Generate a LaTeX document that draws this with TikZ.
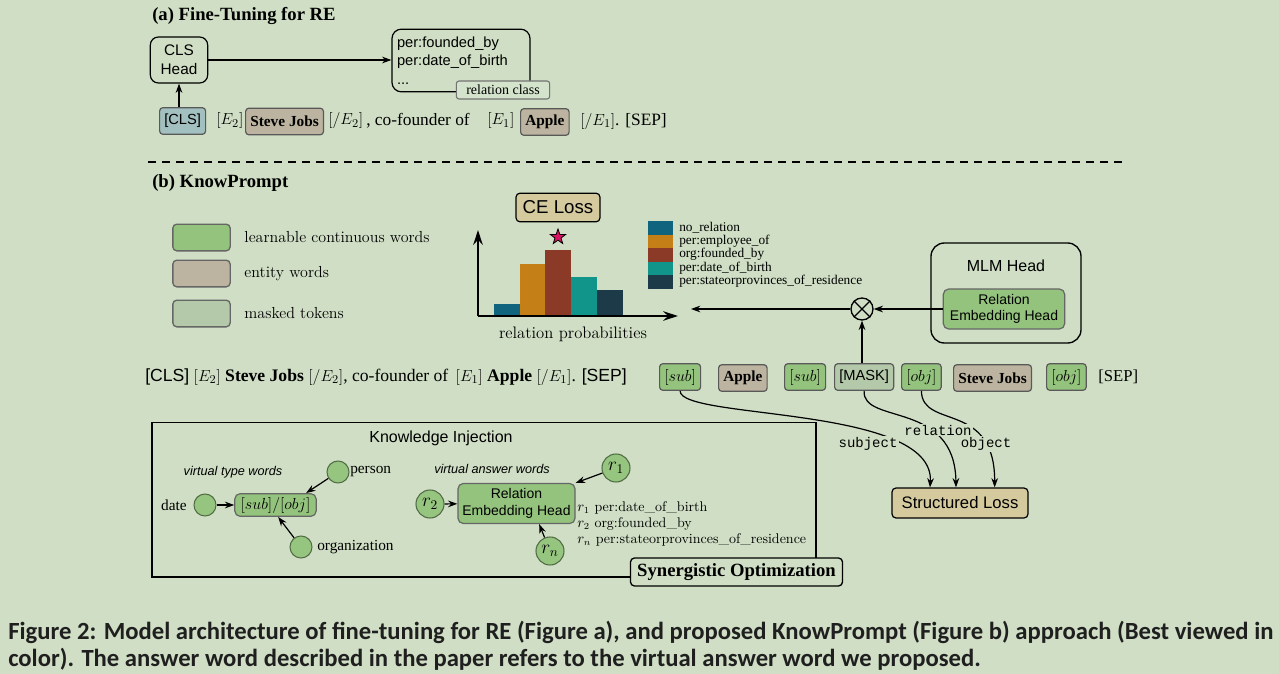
\documentclass[tikz,border=0pt]{standalone}
\usepackage{fontspec}
\usepackage{amsmath}
\setsansfont{Liberation Sans}
\setmonofont{Liberation Mono}
\newfontfamily\tnr{Liberation Serif}
\newfontfamily\capfont{Carlito}
\usetikzlibrary{positioning}
\usetikzlibrary{arrows.meta}
\usetikzlibrary{shapes.geometric}

\definecolor{bgc}{RGB}{207,222,196}
\definecolor{learnc}{RGB}{148,195,125}
\definecolor{entityc}{RGB}{188,180,160}
\definecolor{maskc}{RGB}{180,200,170}
\definecolor{clsc}{RGB}{163,192,192}
\definecolor{lossc}{RGB}{213,202,158}
\definecolor{tagc}{RGB}{212,227,204}
\definecolor{ballc}{RGB}{150,197,127}
\definecolor{barA}{RGB}{16,100,125}
\definecolor{barB}{RGB}{196,127,23}
\definecolor{barC}{RGB}{138,58,38}
\definecolor{barD}{RGB}{17,148,138}
\definecolor{barE}{RGB}{28,58,72}
\definecolor{starc}{RGB}{214,20,100}

\begin{document}
\begin{tikzpicture}[
        x=0.75pt, y=-0.75pt,
        font=\fontsize{11}{13}\selectfont,
        tokbox/.style={draw=black!65, line width=0.9pt, rounded corners=2.5pt,
                       minimum height=20pt, inner xsep=3.5pt, inner ysep=0pt,
                       font=\tnr\fontsize{11.5}{13}\selectfont},
        learnbox/.style={tokbox, fill=learnc, font=\tnr\fontsize{12}{13}\selectfont},
        entbox/.style={tokbox, fill=entityc, font=\tnr\bfseries\fontsize{11.5}{13}\selectfont},
        maskbox/.style={tokbox, fill=maskc, font=\sffamily\fontsize{11}{13}\selectfont},
        plain/.style={inner sep=0pt, font=\tnr\fontsize{13}{15}\selectfont},
        headbox/.style={draw, line width=0.9pt, rounded corners=6pt, align=center,
                        font=\sffamily\fontsize{11.5}{14}\selectfont},
        lossbox/.style={draw, line width=0.9pt, rounded corners=3pt, fill=lossc,
                        font=\sffamily\fontsize{12.5}{14}\selectfont},
        rehbox/.style={draw=black!60, line width=0.9pt, rounded corners=4pt, fill=learnc,
                       align=center, font=\sffamily\fontsize{10.5}{12.5}\selectfont},
        legbox/.style={draw=black!60, line width=1pt, rounded corners=3pt,
                       minimum width=43pt, minimum height=20pt},
        legtext/.style={anchor=west, inner sep=0pt, font=\fontsize{12}{14}\selectfont},
        ball/.style={circle, draw=black!45!ballc, line width=0.8pt, fill=ballc,
                     minimum size=16.5pt, inner sep=0pt},
        rball/.style={ball, minimum size=21pt, font=\fontsize{14}{16}\selectfont},
        vtext/.style={font=\sffamily\itshape\fontsize{9.5}{11}\selectfont},
        mono/.style={font=\ttfamily\fontsize{10.5}{12}\selectfont, fill=bgc, inner sep=1pt},
        title/.style={anchor=west, inner sep=0pt, font=\tnr\bfseries\fontsize{14}{16}\selectfont},
        arrow/.style={-{Stealth[length=7pt,width=5pt]}, line width=0.9pt},
        axis/.style={-{Stealth[length=11pt,width=7pt]}, line width=2pt}
    ]
        % background and page size
        \fill[bgc] (0,0) rectangle (1279,674);
        \useasboundingbox (0,0) rectangle (1279,674);

        % ---------- (a) Fine-Tuning for RE ----------
        \node[title] (titleA) at (152,16) {(a) Fine-Tuning for RE};
        \node[headbox, minimum width=43pt, minimum height=34.5pt] (clshead) at (179,60) {CLS\\Head};
        \node[headbox, rounded corners=7pt, minimum width=103.5pt, minimum height=47pt,
              text width=96pt, align=left, font=\sffamily\fontsize{11}{14}\selectfont]
              (classes) at (461,60.5) {per:founded\_by\\per:date\_of\_birth\\...};
        \node[draw=black!55, line width=0.8pt, rounded corners=2pt, fill=tagc,
              minimum width=70pt, minimum height=13.5pt, inner sep=1pt,
              font=\tnr\fontsize{10.5}{12}\selectfont] (tag) at (503,90) {relation class};

        \node[tokbox, fill=clsc, font=\sffamily\fontsize{11}{13}\selectfont, anchor=west] (clsA) at (159,121) {[CLS]};
        \node[plain, anchor=west] (e2A) at (216,121) {$[E_2]$};
        \node[entbox, anchor=west] (sjA) at (245,121.5) {Steve Jobs};
        \node[plain, anchor=west] (e2cA) at (328,121) {$[/E_2]$};
        \node[plain, anchor=west] (coA) at (366,121) {, co-founder of};
        \node[plain, anchor=west] (e1A) at (487,121) {$[E_1]$};
        \node[entbox, anchor=west] (appleA) at (520,122) {Apple};
        \node[plain, anchor=west] (sepA) at (580,121) {$[/E_1]$. [SEP]};

        \draw[arrow] (clshead.east) -- (clshead.east -| classes.west);
        \draw[arrow] (clsA.north -| clshead.south) -- (clshead.south);

        \draw[line width=2pt, dash pattern=on 6pt off 4.5pt] (148,162) -- (1125,162);

        % ---------- (b) KnowPrompt ----------
        \node[title] (titleB) at (152,183) {(b) KnowPrompt};

        \node[legbox, fill=learnc] (legA) at (201.5,237.5) {};
        \node[legtext, right=10pt of legA] (legAtext) {learnable continuous words};
        \node[legbox, fill=entityc] (legB) at (201.5,273.5) {};
        \node[legtext, right=10pt of legB] (legBtext) {entity words};
        \node[legbox, fill=maskc] (legC) at (201.5,313.5) {};
        \node[legtext, right=10pt of legC] (legCtext) {masked tokens};

        % relation probabilities
        \node[lossbox, minimum width=63pt, minimum height=21.5pt,
              font=\sffamily\fontsize{14}{16}\selectfont] (ce) at (558,207.5) {CE Loss};
        \node[star, star points=5, star point ratio=2.5, draw=black, line width=0.6pt,
              fill=starc, minimum size=12pt, inner sep=0pt] (best) at (558,237) {};
        \foreach \bx/\btop/\bcol in {494/304/barA, 519.5/264/barB, 545/250/barC, 571/277/barD, 597/290/barE}
            \fill[\bcol] (\bx,\btop) rectangle ({\bx+25.5},316);
        \coordinate (origin) at (478,316);
        \coordinate (ytip) at (478,230);
        \coordinate (xtip) at (678,316);
        \draw[axis] (origin) -- (ytip);
        \draw[axis] (origin) -- (xtip);
        \node[font=\fontsize{12.5}{14}\selectfont] (probs) at (573,334) {relation probabilities};

        \foreach \i/\bcol/\btext in {0/barA/no\_relation, 1/barB/per:employee\_of, 2/barC/org:founded\_by,
                                     3/barD/per:date\_of\_birth, 4/barE/per:stateorprovinces\_of\_residence} {
            \fill[\bcol] (648,{221+13.5*\i}) rectangle (673,{234.5+13.5*\i});
            \node[anchor=west, inner sep=0pt, font=\tnr\fontsize{10}{11}\selectfont] (barkey\i)
                 at (679,{227.5+13.5*\i}) {\btext};
        }

        % MLM head
        \node[draw, line width=1pt, rounded corners=10pt, minimum width=112.5pt,
              minimum height=75pt] (mlm) at (1006,293) {};
        \node[font=\sffamily\fontsize{12}{14}\selectfont] (mlmtitle) at (1006,266) {MLM Head};
        \node[rehbox, minimum width=91pt, minimum height=30pt] (reh) at (1004,309) {Relation\\Embedding Head};
        \node[draw, circle, line width=1pt, minimum size=16.5pt, inner sep=0pt] (mult) at (862,309) {};
        \draw[line width=0.9pt] (mult.45) -- (mult.225) (mult.135) -- (mult.315);
        \coordinate (probin) at (691,309);

        % prompt tokens
        \node[plain, anchor=west, font=\tnr\fontsize{13.2}{15}\selectfont] (sentB) at (145,377)
             {\textsf{[CLS]} $[E_2]$ \textbf{Steve Jobs} $[/E_2]$, co-founder of\, $[E_1]$ \textbf{Apple} $[/E_1]$. \textsf{[SEP]}};
        \node[learnbox, anchor=west] (subB) at (659,377) {$[sub]$};
        \node[entbox, anchor=west] (appleB) at (718,378) {Apple};
        \node[learnbox, anchor=west] (subC) at (784,377) {$[sub]$};
        \node[maskbox, anchor=west] (maskB) at (834,377) {[MASK]};
        \node[learnbox, anchor=west] (objB) at (901,377) {$[obj]$};
        \node[entbox, anchor=west] (sjB) at (953,378) {Steve Jobs};
        \node[learnbox, anchor=west] (objC) at (1046,377) {$[obj]$};
        \node[plain, anchor=west, font=\tnr\fontsize{12.5}{14}\selectfont] (sepB) at (1098,377) {[SEP]};

        \draw[arrow] (reh.west) -- (mult.east);
        \draw[arrow] (mult.west) -- (probin);
        \draw[arrow] (maskB.north -| mult.south) -- (mult.south);

        % structured loss
        \node[lossbox, minimum width=102pt, minimum height=22.5pt] (sloss) at (960,503) {Structured Loss};
        \draw[arrow] (subB.south) .. controls (680,420) and (935,405) .. ([xshift=-22.5pt]sloss.north);
        \draw[arrow] (maskB.south) .. controls (862,425) and (955,400) .. ([xshift=-3pt]sloss.north);
        \draw[arrow] (objB.south) .. controls (922,430) and (995,400) .. ([xshift=26pt]sloss.north);
        \node[mono] (subjlab) at (868,444) {subject};
        \node[mono] (rellab) at (938,430) {relation};
        \node[mono] (objlab) at (986,444) {object};

        % knowledge injection
        \node[draw, line width=1pt, minimum width=498pt, minimum height=116pt] (ki) at (484,499.5) {};
        \node[font=\sffamily\fontsize{12}{14}\selectfont] (kititle) at (441,438) {Knowledge Injection};

        \node[vtext] (vtw) at (233,472) {virtual type words};
        \node[ball] (person) at (338,472) {};
        \node[plain, anchor=west, font=\tnr\fontsize{11.5}{13}\selectfont] (personlab) at (350,472) {person};
        \node[plain, anchor=east, font=\tnr\fontsize{11.5}{13}\selectfont] (datelab) at (187,505) {date};
        \node[ball] (date) at (205,505) {};
        \node[rehbox, minimum width=61pt, minimum height=17pt, inner sep=1pt,
              font=\fontsize{12}{14}\selectfont] (typeb) at (275.5,505) {$[sub]/[obj]$};
        \node[ball] (org) at (301,547) {};
        \node[plain, anchor=west, font=\tnr\fontsize{11.5}{13}\selectfont] (orglab) at (317,547) {organization};
        \draw[arrow] (date) -- (typeb);
        \draw[arrow] (person) -- ([xshift=-8pt]typeb.north east);
        \draw[arrow] (org) -- ([xshift=2pt]typeb.south);

        \node[vtext] (vaw) at (492,469) {virtual answer words};
        \node[rehbox, minimum width=82pt, minimum height=30pt] (reh2) at (516.5,503.5) {Relation\\Embedding Head};
        \node[rball] (r1) at (616,468) {$r_1$};
        \node[rball] (r2) at (430,504) {$r_2$};
        \node[rball] (rn) at (550,551) {$r_n$};
        \draw[arrow] (r1) -- (reh2.north east);
        \draw[arrow] (r2) -- (reh2);
        \draw[arrow] (rn) -- ([xshift=17pt]reh2.south);
        \node[anchor=west, inner sep=0pt, font=\fontsize{10.5}{12}\selectfont] (r1txt) at (577,508) {$r_1$ per:date\_of\_birth};
        \node[anchor=west, inner sep=0pt, font=\fontsize{10.5}{12}\selectfont] (r2txt) at (577,524) {$r_2$ org:founded\_by};
        \node[anchor=west, inner sep=0pt, font=\fontsize{10.5}{12}\selectfont] (rntxt) at (577,540) {$r_n$ per:stateorprovinces\_of\_residence};

        \node[draw, line width=1pt, rounded corners=3pt, fill=bgc, minimum width=159pt,
              minimum height=21pt, font=\tnr\bfseries\fontsize{14}{16}\selectfont] (syn) at (736.5,572) {Synergistic Optimization};

        % caption
        \node[anchor=north west, inner sep=0pt, align=left, text=black!88,
              font=\capfont\bfseries\fontsize{18.5}{20}\selectfont] (caption) at (8,621)
             {Figure 2: Model architecture of fine-tuning for RE (Figure a), and proposed KnowPrompt (Figure b) approach (Best viewed in\\
              color). The answer word described in the paper refers to the virtual answer word we proposed.};
    \end{tikzpicture}
\end{document}
